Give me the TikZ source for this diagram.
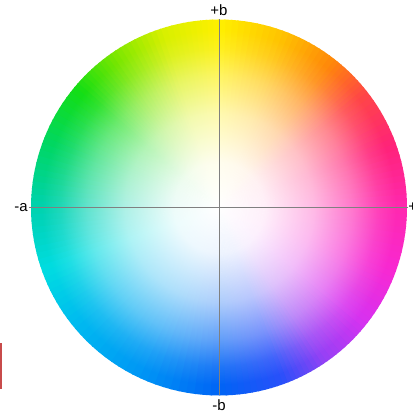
\documentclass[tikz,border=0pt]{standalone}
\usepackage{fontspec}
\setmainfont{Liberation Sans}
\usetikzlibrary{fadings}

% hue colours round the wheel
\definecolor{hueA}{RGB}{255,40,175}
\definecolor{hueB}{RGB}{255,35,120}
\definecolor{hueC}{RGB}{255,70,70}
\definecolor{hueD}{RGB}{255,135,10}
\definecolor{hueE}{RGB}{255,195,0}
\definecolor{hueF}{RGB}{255,240,0}
\definecolor{hueG}{RGB}{215,240,0}
\definecolor{hueH}{RGB}{120,230,0}
\definecolor{hueI}{RGB}{20,222,20}
\definecolor{hueJ}{RGB}{0,215,100}
\definecolor{hueK}{RGB}{0,210,175}
\definecolor{hueL}{RGB}{0,220,225}
\definecolor{hueM}{RGB}{0,185,240}
\definecolor{hueN}{RGB}{0,150,245}
\definecolor{hueO}{RGB}{0,100,245}
\definecolor{hueP}{RGB}{40,80,250}
\definecolor{hueQ}{RGB}{150,65,245}
\definecolor{hueR}{RGB}{215,50,240}
\definecolor{hueS}{RGB}{248,40,210}
\definecolor{barred}{RGB}{200,75,75}

% white core fading
\pgfdeclareradialshading{whitecoreshade}{\pgfpointorigin}{color(0bp)=(white); color(6bp)=(white!93!black); color(12.5bp)=(white!68!black); color(17.5bp)=(white!38!black); color(21bp)=(white!12!black); color(23.5bp)=(black); color(50bp)=(black)}
\pgfdeclarefading{whitecore}{\pgfuseshading{whitecoreshade}}

\begin{document}
\begin{tikzpicture}[x=0.02cm, y=0.02cm,
    axis/.style={black!50, line width=0.4pt},
    lbl/.style={font=\fontsize{8.5}{10}\selectfont, inner sep=0pt}]

    \def\R{188}
    \useasboundingbox (-219,-204.5) rectangle (194,207.5);

    % Wheel
    \foreach \a/\b/\ca/\cb in {0/20/hueA/hueB, 20/38/hueB/hueC, 38/52/hueC/hueD, 52/70/hueD/hueE,
        70/90/hueE/hueF, 90/108/hueF/hueG, 108/125/hueG/hueH, 125/140/hueH/hueI,
        140/160/hueI/hueJ, 160/180/hueJ/hueK, 180/200/hueK/hueL, 200/220/hueL/hueM,
        220/245/hueM/hueN, 245/270/hueN/hueO, 270/290/hueO/hueP, 290/305/hueP/hueQ,
        305/322/hueQ/hueR, 322/340/hueR/hueS, 340/360/hueS/hueA}{
      \foreach \k in {0,...,9}{
        \pgfmathsetmacro{\s}{\a+(\b-\a)*\k/10}
        \pgfmathsetmacro{\e}{\a+(\b-\a)*(\k+1)/10+0.4}
        \pgfmathtruncatemacro{\p}{\k*10+5}
        \colorlet{wedgecol}{\cb!\p!\ca}
        \fill[wedgecol] (0,0) -- (\s:\R) arc[start angle=\s, end angle=\e, radius=\R] -- cycle;
      }
    }
    \fill[white, path fading=whitecore] (0,0) circle (\R);

    % Axes
    \coordinate (aw) at (-190,0);
    \coordinate (ae) at (189,0);
    \coordinate (bn) at (0,188);
    \coordinate (bs) at (0,-188);
    \draw[axis] (aw) -- (ae);
    \draw[axis] (bn) -- (bs);

    % Labels
    \node[lbl, anchor=east] (minusa) at (-191,0) {-a};
    \node[lbl, anchor=west] (plusa) at (189,0) {+a};
    \node[lbl] (plusb) at (0,197) {+b};
    \node[lbl] (minusb) at (0,-197.5) {-b};

    % red mark at the left edge
    \fill[barred] (-219,-136) rectangle (-216.5,-182);

\end{tikzpicture}
\end{document}
